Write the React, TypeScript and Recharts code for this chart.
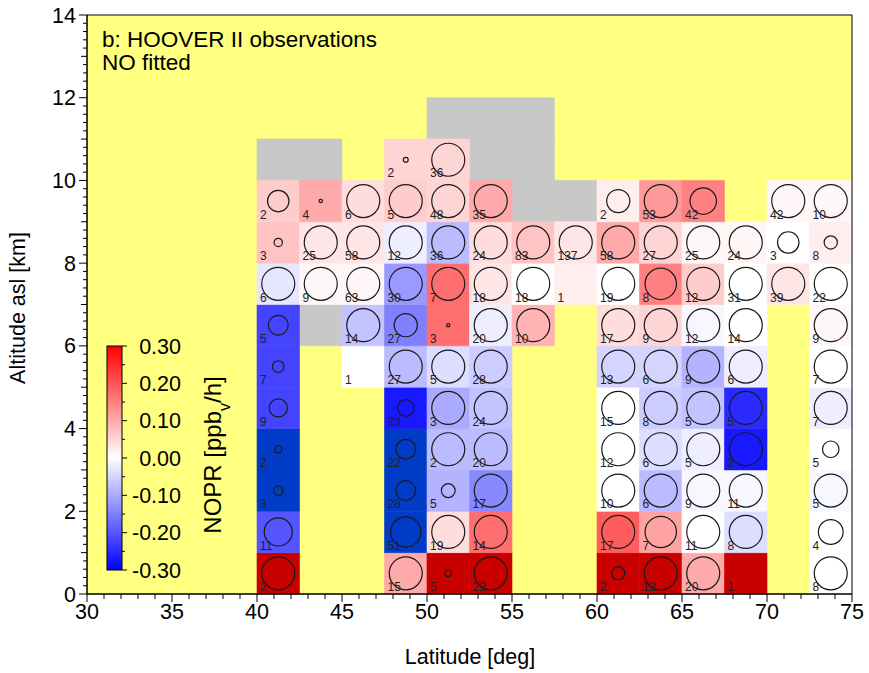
import React from 'react';
import { ScatterChart, Scatter, XAxis, YAxis, ReferenceArea } from 'recharts';

const N = null;

// latitude bin lower edges (deg) and bin widths
const latEdges = [40, 42.5, 45, 47.5, 50, 52.5, 55, 57.5, 60, 62.5, 65, 67.5, 70, 72.5];
const LAT_STEP = 2.5;
const ALT_STEP = 1;

// NOPR [ppbv/h] per altitude bin (lower edge in km); values beyond +/-0.3 are out of scale
const noprKm0 = [0.4, N, N, 0.1, 0.4, 0.4, N, N, 0.4, 0.4, 0.1, 0.4, N, 0.0];
const noprKm1 = [-0.2, N, N, -0.4, 0.04, 0.17, N, N, 0.19, 0.11, 0.0, -0.04, N, 0.0];
const noprKm2 = [-0.4, N, N, -0.4, -0.09, -0.14, N, N, 0.0, -0.08, -0.01, -0.01, N, -0.01];
const noprKm3 = [-0.4, N, N, -0.4, -0.08, -0.08, N, N, 0.0, -0.04, -0.02, -0.27, N, 0.0];
const noprKm4 = [-0.22, N, N, -0.27, -0.1, -0.07, N, N, 0.0, -0.06, -0.07, -0.25, N, -0.02];
const noprKm5 = [-0.22, N, 0.0, -0.08, -0.04, -0.06, N, N, -0.05, -0.05, -0.09, -0.02, N, 0.0];
const noprKm6 = [-0.22, N, -0.07, -0.15, 0.17, -0.02, 0.09, N, 0.04, 0.05, -0.01, 0.0, N, 0.01];
const noprKm7 = [-0.03, 0.01, 0.01, -0.12, 0.17, 0.03, 0.0, 0.02, 0.0, 0.15, 0.06, 0.0, 0.03, 0.0];
const noprKm8 = [0.07, 0.03, 0.03, -0.02, -0.08, 0.04, 0.07, 0.03, 0.1, 0.05, 0.01, 0.01, 0.0, 0.02];
const noprKm9 = [0.06, 0.1, 0.04, 0.06, 0.05, 0.1, N, N, 0.02, 0.12, 0.15, N, 0.01, 0.01];
const noprKm10 = [N, N, N, 0.05, 0.05, N, N, N, N, N, N, N, N, N];
const noprKm11 = [N, N, N, N, N, N, N, N, N, N, N, N, N, N];

// number of observations per bin
const countKm0 = [2, N, N, 15, 5, 22, N, N, 2, 12, 20, 1, N, 8];
const countKm1 = [11, N, N, 51, 19, 14, N, N, 17, 7, 11, 8, N, 4];
const countKm2 = [3, N, N, 28, 5, 17, N, N, 10, 6, 9, 11, N, 5];
const countKm3 = [2, N, N, 22, 2, 20, N, N, 12, 6, 5, 3, N, 5];
const countKm4 = [9, N, N, 23, 3, 24, N, N, 15, 8, 5, 5, N, 7];
const countKm5 = [7, N, 1, 27, 5, 28, N, N, 13, 6, 9, 6, N, 7];
const countKm6 = [5, N, 14, 27, 3, 20, 10, N, 17, 9, 12, 14, N, 9];
const countKm7 = [6, 9, 63, 30, 7, 18, 18, 1, 19, 8, 12, 31, 39, 22];
const countKm8 = [3, 25, 58, 12, 36, 24, 83, 137, 58, 27, 25, 24, 3, 8];
const countKm9 = [2, 4, 6, 5, 48, 35, N, N, 2, 53, 42, N, 42, 10];
const countKm10 = [N, N, N, 2, 36, N, N, N, N, N, N, N, N, N];
const countKm11 = [N, N, N, N, N, N, N, N, N, N, N, N, N, N];

// fit quality (relative circle size, 0..1)
const fitKm0 = [1, N, N, 1, 0.2, 1, N, N, 0.4, 1, 1, 0, N, 1];
const fitKm1 = [0.85, N, N, 0.92, 1, 1, N, N, 1, 0.95, 1, 1, N, 0.75];
const fitKm2 = [0.28, N, N, 0.6, 0.42, 1, N, N, 1, 1, 1, 1, N, 1];
const fitKm3 = [0.22, N, N, 0.6, 1, 1, N, N, 1, 1, 1, 1, N, 0.5];
const fitKm4 = [0.55, N, N, 0.5, 1, 1, N, N, 1, 1, 1, 1, N, 1];
const fitKm5 = [0.35, N, 0, 1, 1, 1, N, N, 1, 1, 1, 1, N, 1];
const fitKm6 = [0.6, N, 1, 0.7, 0.1, 1, 1, N, 1, 1, 1, 1, N, 1];
const fitKm7 = [1, 1, 1, 1, 1, 1, 1, 0, 1, 0.95, 1, 1, 1, 1];
const fitKm8 = [0.25, 1, 1, 1, 1, 1, 1, 1, 1, 1, 1, 1, 0.65, 0.4];
const fitKm9 = [0.65, 0.1, 1, 1, 1, 1, N, N, 0.7, 1, 0.8, N, 1, 1];
const fitKm10 = [N, N, N, 0.15, 1, N, N, N, N, N, N, N, N, N];
const fitKm11 = [N, N, N, N, N, N, N, N, N, N, N, N, N, N];

// bins flown but without usable fit (grey)
const noFitLat = [40, 42.5, 42.5, 52.5, 55, 55, 57.5, 50, 52.5, 55];
const noFitAlt = [10, 10, 6, 10, 10, 9, 9, 11, 11, 11];

const xMajorTicks = [30, 35, 40, 45, 50, 55, 60, 65, 70, 75];
const yMajorTicks = [0, 2, 4, 6, 8, 10, 12, 14];
const colorbarTicks = [0.3, 0.2, 0.1, 0.0, -0.1, -0.2, -0.3];

const noprRows = [noprKm0, noprKm1, noprKm2, noprKm3, noprKm4, noprKm5, noprKm6, noprKm7, noprKm8, noprKm9, noprKm10, noprKm11];
const countRows = [countKm0, countKm1, countKm2, countKm3, countKm4, countKm5, countKm6, countKm7, countKm8, countKm9, countKm10, countKm11];
const fitRows = [fitKm0, fitKm1, fitKm2, fitKm3, fitKm4, fitKm5, fitKm6, fitKm7, fitKm8, fitKm9, fitKm10, fitKm11];

const YELLOW = '#ffff80';
const GREY = '#c8c8c8';
const FONT = '"Liberation Sans", Arial, sans-serif';
const CIRCLE_MAX = 16.5;

function noprColor(v: number): string {
  if (v > 0.3) return '#c80000';
  if (v < -0.3) return '#003cc8';
  const t = Math.min(1, Math.abs(v) / 0.3);
  const c = Math.round(255 * (1 - t));
  return v >= 0 ? `rgb(255,${c},${c})` : `rgb(${c},${c},255)`;
}

type Cell = { lat: number; alt: number; v: number; n: number | null; q: number };
const cells: Cell[] = [];
noprRows.forEach((row, r) => {
  row.forEach((v, c) => {
    if (v === null) return;
    cells.push({ lat: latEdges[c], alt: r * ALT_STEP, v, n: countRows[r][c], q: fitRows[r][c] ?? 0 });
  });
});
const circleData = cells.map((c) => ({ x: c.lat + LAT_STEP / 2, y: c.alt + ALT_STEP / 2, q: c.q }));

const xTicks: number[] = [];
for (let i = 30; i <= 75; i++) xTicks.push(i);
const yTicks: number[] = [];
for (let i = 0; i <= 70; i++) yTicks.push(Math.round(i * 2) / 10);

const XTick = (props: any) => {
  const { x, y, payload } = props;
  const major = xMajorTicks.includes(payload.value);
  return (
    <g>
      <line x1={x} x2={x} y1={y} y2={y + (major ? 8 : 5)} stroke="#000" strokeWidth={1} />
      {major && (
        <text x={x} y={y + 25} textAnchor="middle" fontSize={21.5} fontFamily={FONT} fill="#000">
          {payload.value}
        </text>
      )}
    </g>
  );
};

const YTick = (props: any) => {
  const { x, y, payload } = props;
  const v = Math.round(payload.value * 10) / 10;
  const major = yMajorTicks.includes(v);
  const unit = Number.isInteger(v);
  return (
    <g>
      <line x1={x} x2={x - (major ? 8 : unit ? 6 : 4)} y1={y} y2={y} stroke="#000" strokeWidth={1} />
      {major && (
        <text x={x - 11} y={y + 7.5} textAnchor="end" fontSize={21.5} fontFamily={FONT} fill="#000">
          {v}
        </text>
      )}
    </g>
  );
};

const CircleShape = (props: any) => {
  const { cx, cy, payload } = props;
  if (!payload || !payload.q) return <g />;
  return <circle cx={cx} cy={cy} r={payload.q * CIRCLE_MAX} fill="none" stroke="#1a1a1a" strokeWidth={1.2} />;
};

const Overlay = () => {
  const top = 346;
  const bottom = 570;
  const yOf = (v: number) => bottom - ((v + 0.3) / 0.6) * (bottom - top);
  const minor: number[] = [];
  for (let i = -6; i <= 6; i++) minor.push(i * 0.05);
  return (
    <svg width={869} height={673} style={{ position: 'absolute', left: 0, top: 0, pointerEvents: 'none' }}>
      <defs>
        <linearGradient id="noprGrad" x1="0" y1="0" x2="0" y2="1">
          <stop offset="0%" stopColor="#ff0000" />
          <stop offset="50%" stopColor="#ffffff" />
          <stop offset="100%" stopColor="#0000ff" />
        </linearGradient>
      </defs>
      <text x={102} y={47} fontSize={22.5} fontFamily={FONT} fill="#000">b: HOOVER II observations</text>
      <text x={102} y={70} fontSize={22.5} fontFamily={FONT} fill="#000">NO fitted</text>
      <rect x={107} y={top} width={15} height={bottom - top} fill="url(#noprGrad)" stroke="#000" strokeWidth={1} />
      {minor.map((v, i) => (
        <line key={i} x1={122} x2={122 + (i % 2 === 0 ? 5 : 3)} y1={yOf(v)} y2={yOf(v)} stroke="#000" strokeWidth={1} />
      ))}
      {colorbarTicks.map((v) => (
        <text key={v} x={181} y={yOf(v) + 7.5} textAnchor="end" fontSize={21.5} fontFamily={FONT} fill="#000">
          {v.toFixed(2)}
        </text>
      ))}
      <text transform="translate(221,455) rotate(-90)" textAnchor="middle" fontSize={24} fontFamily={FONT} fill="#000">
        NOPR [ppb<tspan baselineShift="sub" fontSize={16}>v</tspan>/h]
      </text>
      <text x={470} y={664} textAnchor="middle" fontSize={21.5} fontFamily={FONT} fill="#000">Latitude [deg]</text>
      <text transform="translate(25,308) rotate(-90)" textAnchor="middle" fontSize={21.5} fontFamily={FONT} fill="#000">
        Altitude asl [km]
      </text>
    </svg>
  );
};

export default function App() {
  return (
    <div style={{ position: 'absolute', left: 0, top: 0, width: 869, height: 673, background: '#fff', fontFamily: FONT }}>
      <ScatterChart width={869} height={673} margin={{ top: 15, right: 17, bottom: 0, left: 0 }}>
        <XAxis
          type="number"
          dataKey="x"
          domain={[30, 75]}
          ticks={xTicks}
          interval={0}
          tick={<XTick />}
          tickLine={false}
          tickSize={0}
          tickMargin={0}
          height={79}
          axisLine={{ stroke: '#000' }}
          allowDataOverflow
        />
        <YAxis
          type="number"
          dataKey="y"
          domain={[0, 14]}
          ticks={yTicks}
          interval={0}
          tick={<YTick />}
          tickLine={false}
          tickSize={0}
          tickMargin={0}
          width={87}
          axisLine={{ stroke: '#000' }}
          allowDataOverflow
        />
        <ReferenceArea x1={30} x2={75} y1={0} y2={14} fill={YELLOW} fillOpacity={1} stroke="none" />
        {noFitLat.map((lat, i) => (
          <ReferenceArea
            key={`g${i}`}
            x1={lat}
            x2={lat + LAT_STEP}
            y1={noFitAlt[i]}
            y2={noFitAlt[i] + ALT_STEP}
            fill={GREY}
            fillOpacity={1}
            stroke={GREY}
            strokeWidth={0.6}
          />
        ))}
        {cells.map((c, i) => (
          <ReferenceArea
            key={`c${i}`}
            x1={c.lat}
            x2={c.lat + LAT_STEP}
            y1={c.alt}
            y2={c.alt + ALT_STEP}
            fill={noprColor(c.v)}
            fillOpacity={1}
            stroke={noprColor(c.v)}
            strokeWidth={0.6}
            label={
              c.n === null
                ? undefined
                : { value: String(c.n), position: 'insideBottomLeft', offset: 3, fontSize: 12, fill: '#222', stroke: 'none', strokeWidth: 0, fontFamily: FONT }
            }
          />
        ))}
        <ReferenceArea x1={30} x2={75} y1={0} y2={14} fill="none" fillOpacity={0} stroke="#000" strokeWidth={1} />
        <Scatter data={circleData} shape={<CircleShape />} isAnimationActive={false} />
      </ScatterChart>
      <Overlay />
    </div>
  );
}
